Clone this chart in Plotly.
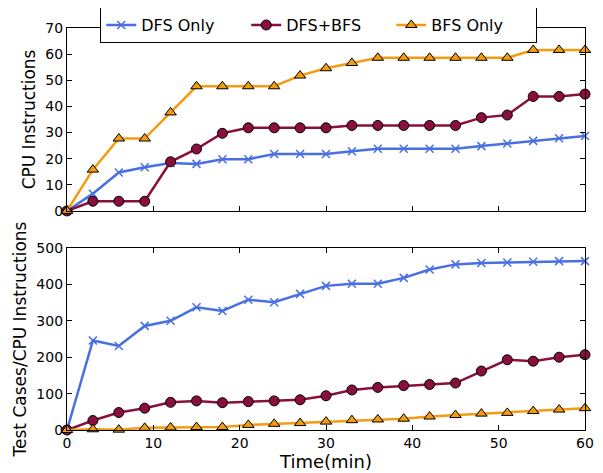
import plotly.graph_objects as go
from plotly.subplots import make_subplots

time_min = [0, 3, 6, 9, 12, 15, 18, 21, 24, 27, 30, 33, 36, 39, 42, 45, 48, 51, 54, 57, 60]

cpu_dfs = [0, 6.6, 14.7, 16.7, 18.3, 18, 19.8, 19.8, 21.8, 21.8, 21.8, 22.8, 23.8, 23.8, 23.8, 23.8, 24.8, 25.8, 26.8, 27.8, 28.7]
cpu_both = [0, 3.7, 3.7, 3.7, 18.8, 23.7, 29.7, 31.8, 31.8, 31.8, 31.8, 32.7, 32.7, 32.7, 32.7, 32.7, 35.7, 36.7, 43.8, 43.8, 44.7]
cpu_bfs = [0, 15.8, 27.7, 27.7, 37.7, 47.7, 47.7, 47.7, 47.7, 51.8, 54.6, 56.6, 58.6, 58.6, 58.6, 58.6, 58.6, 58.6, 61.6, 61.6, 61.6]

tc_dfs = [0, 246, 231, 286, 300, 337, 327, 358, 351, 374, 396, 402, 402, 418, 441, 455, 459, 460, 462, 464, 464]
tc_both = [0, 26, 48, 60, 76, 80, 75, 78, 80, 83, 94, 110, 117, 122, 125, 129, 162, 193, 189, 200, 207]
tc_bfs = [0, 2, 1, 6, 7, 8, 8, 14, 17, 19, 23, 27, 29, 31, 37, 41, 45, 47, 52, 56, 60]

series_names = ["DFS Only", "DFS+BFS", "BFS Only"]
colors = ["#4a6fe3", "#8a0f3d", "#f39c0f"]

fig = make_subplots(rows=2, cols=1, shared_xaxes=False, vertical_spacing=0.0)

styles = [
    dict(symbol="x-thin-open", size=8, color=colors[0], line=dict(width=1.5, color=colors[0])),
    dict(symbol="circle", size=10, color=colors[1], line=dict(width=1, color="black")),
    dict(symbol="triangle-up", size=10, color=colors[2], line=dict(width=1, color="black")),
]

top = [cpu_dfs, cpu_both, cpu_bfs]
bot = [tc_dfs, tc_both, tc_bfs]
for i in range(3):
    fig.add_trace(go.Scatter(x=time_min, y=top[i], mode="lines+markers", name=series_names[i],
                             line=dict(color=colors[i], width=2.5), marker=styles[i],
                             showlegend=True, cliponaxis=False), row=1, col=1)
for i in range(3):
    fig.add_trace(go.Scatter(x=time_min, y=bot[i], mode="lines+markers", name=series_names[i],
                             line=dict(color=colors[i], width=2.5), marker=styles[i],
                             showlegend=False, cliponaxis=False), row=2, col=1)

axis_common = dict(showline=True, linecolor="black", linewidth=1.2, mirror="ticks",
                   ticks="inside", ticklen=5, tickcolor="black", showgrid=False, zeroline=False,
                   automargin=False, tickfont=dict(size=14, color="black"))

fig.update_xaxes(range=[0, 60], dtick=10, **axis_common)
fig.update_xaxes(showticklabels=False, row=1, col=1)
fig.update_xaxes(title=dict(text="Time(min)", font=dict(size=18, color="black"), standoff=2), row=2, col=1)
fig.update_yaxes(**axis_common)
fig.update_yaxes(range=[0, 70], dtick=10, title=dict(text="CPU Instructions", font=dict(size=17, color="black"), standoff=5), row=1, col=1)
fig.update_yaxes(range=[0, 500], dtick=100, title=dict(text="Test Cases/CPU Instructions", font=dict(size=17, color="black"), standoff=5), row=2, col=1)

fig.update_layout(
    width=595, height=465,
    margin=dict(l=59, r=18, t=20, b=43, autoexpand=False),
    paper_bgcolor="white", plot_bgcolor="white",
    font=dict(family="DejaVu Sans", color="black"),
    legend=dict(orientation="h", x=0.486, xanchor="center", y=1.052, yanchor="top",
                bgcolor="white", bordercolor="black", borderwidth=1,
                font=dict(size=16), entrywidth=100, itemwidth=30,
                tracegroupgap=0),
)
fig.layout.yaxis.domain = [0.545, 1.0]
fig.layout.yaxis2.domain = [0.0, 0.4527]

fig.write_html("out.html")
